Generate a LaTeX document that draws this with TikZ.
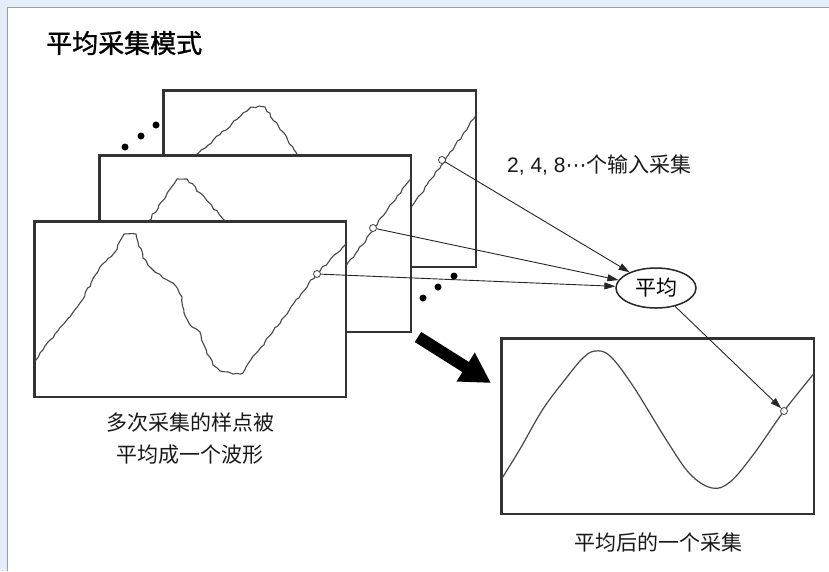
\documentclass[tikz,border=0pt]{standalone}
\usepackage{fontspec}
\setmainfont{Noto Sans CJK SC}
\newfontfamily\titlefont[FakeBold=1.2]{Noto Sans CJK SC}
\newfontfamily\latinfont{Liberation Sans}
\newfontfamily\symfont{DejaVu Sans}
\usetikzlibrary{shapes.geometric,arrows.meta,decorations.pathmorphing}
\begin{document}
\begin{tikzpicture}[x=1pt,y=-1pt,
  frame/.style={draw=black!80, line width=1.6pt, fill=white, inner sep=0pt, anchor=north west},
  wave/.style={draw=black!72, line width=1.1pt, line join=round, decorate,
     decoration={random steps, segment length=4pt, amplitude=1pt}},
  smooth wave/.style={draw=black!72, line width=1.2pt},
  smp/.style={circle, draw=black!75, line width=0.8pt, fill=white, inner sep=0pt, minimum size=7pt},
  conn/.style={draw=black!85, line width=0.9pt, -{Triangle[length=11pt,width=7pt]}},
  dotf/.style={circle, fill=black, inner sep=0pt, minimum size=7pt},
  lbl/.style={font=\fontsize{21}{24}\selectfont, inner sep=0pt, text=black!90}
]
\useasboundingbox (0,0) rectangle (829,571);
% background panel
\fill[color={rgb,255:red,228;green,237;blue,248}] (0,0) rectangle (829,571);
\fill[white] (8,8) rectangle (829,571);
\draw[color={rgb,255:red,150;green,160;blue,170}, line width=1.4pt] (7.5,571) -- (7.5,7.5) -- (829,7.5);

\pgfmathsetseed{7}
% title
\node[anchor=west, inner sep=0pt, font=\fontsize{26}{30}\titlefont] (title) at (46,43) {平均采集模式};

% back frame
\node[frame, minimum width=312pt, minimum height=176pt] (f3) at (163,90) {};
\begin{scope}
\clip (f3.north west) rectangle (f3.south east);
\draw[wave] plot coordinates {(150,195) (163,185) (251,107) (265,107) (360,245) (384,247) (480,110)};
\end{scope}
\draw[draw=black!80, line width=1.6pt] (f3.north west) rectangle (f3.south east);

% middle frame
\node[frame, minimum width=311pt, minimum height=176pt] (f2) at (99,155) {};
\begin{scope}
\clip (f2.north west) rectangle (f2.south east);
\draw[wave] plot coordinates {(90,305) (99,295) (177,179) (187,179) (311,315) (415,172)};
\end{scope}
\draw[draw=black!80, line width=1.6pt] (f2.north west) rectangle (f2.south east);

% front frame
\node[frame, minimum width=311pt, minimum height=175pt] (f1) at (34,221) {};
\begin{scope}
\clip (f1.north west) rectangle (f1.south east);
\draw[wave] plot coordinates {(30,367) (34,363) (50,340) (70,317) (80,303) (100,267) (115,252) (124,234) (136,234) (143,258) (153,270) (163,278) (173,283) (182,297) (184,313) (192,327) (200,332) (203,343) (213,365) (220,371) (233,374) (243,373) (246,367) (317,273) (345,245) (352,238)};
\end{scope}
\draw[draw=black!80, line width=1.6pt] (f1.north west) rectangle (f1.south east);

% sample points
\node[smp] (s3) at (442,160) {};
\node[smp] (s2) at (373,228) {};
\node[smp] (s1) at (317,274) {};

% ellipsis dots
\node[dotf] (d1) at (125,147) {};
\node[dotf] (d2) at (141,136) {};
\node[dotf] (d3) at (156,125) {};
\node[dotf] (d4) at (423,298) {};
\node[dotf] (d5) at (438,287) {};
\node[dotf] (d6) at (454,276) {};

% output frame
\node[frame, minimum width=312pt, minimum height=175pt] (fo) at (501,338) {};
\begin{scope}
\clip (fo.north west) rectangle (fo.south east);
\draw[smooth wave] plot[smooth, tension=0.6] coordinates {(498,486) (501,480) (520,449) (543,409) (567,377) (583,358) (595,351) (610,356) (633,386) (667,441) (690,474) (712,488) (730,482) (753,455) (784,411) (816,371)};
\end{scope}
\draw[draw=black!80, line width=1.6pt] (fo.north west) rectangle (fo.south east);
\node[smp] (so) at (784,411) {};

% average node
\node[ellipse, draw=black!85, line width=1.5pt, fill=white, minimum width=80pt, minimum height=40pt, inner sep=0pt, font=\fontsize{21}{24}\selectfont] (avg) at (656,288) {平均};

% labels
\node[lbl, anchor=west, font=\fontsize{21}{24}\selectfont] (inp) at (507,165) {{\latinfont 2, 4, 8}{\symfont ⋯}个输入采集};
\node[lbl, align=center, font=\fontsize{21}{32}\selectfont] (cap1) at (190,439) {多次采集的样点被\\平均成一个波形};
\node[lbl] (cap2) at (658,542) {平均后的一个采集};

% connectors
\draw[conn] (s3) -- (avg);
\draw[conn] (s2) -- (avg);
\draw[conn] (s1) -- (avg);
\draw[conn] (avg) -- (so);

% big arrow
\coordinate (bigT) at (418,337);
\coordinate (bigP) at (491,383);
\draw[line width=12pt, -{Triangle[length=30pt,width=32pt]}] (bigT) -- (bigP);
\end{tikzpicture}
\end{document}
